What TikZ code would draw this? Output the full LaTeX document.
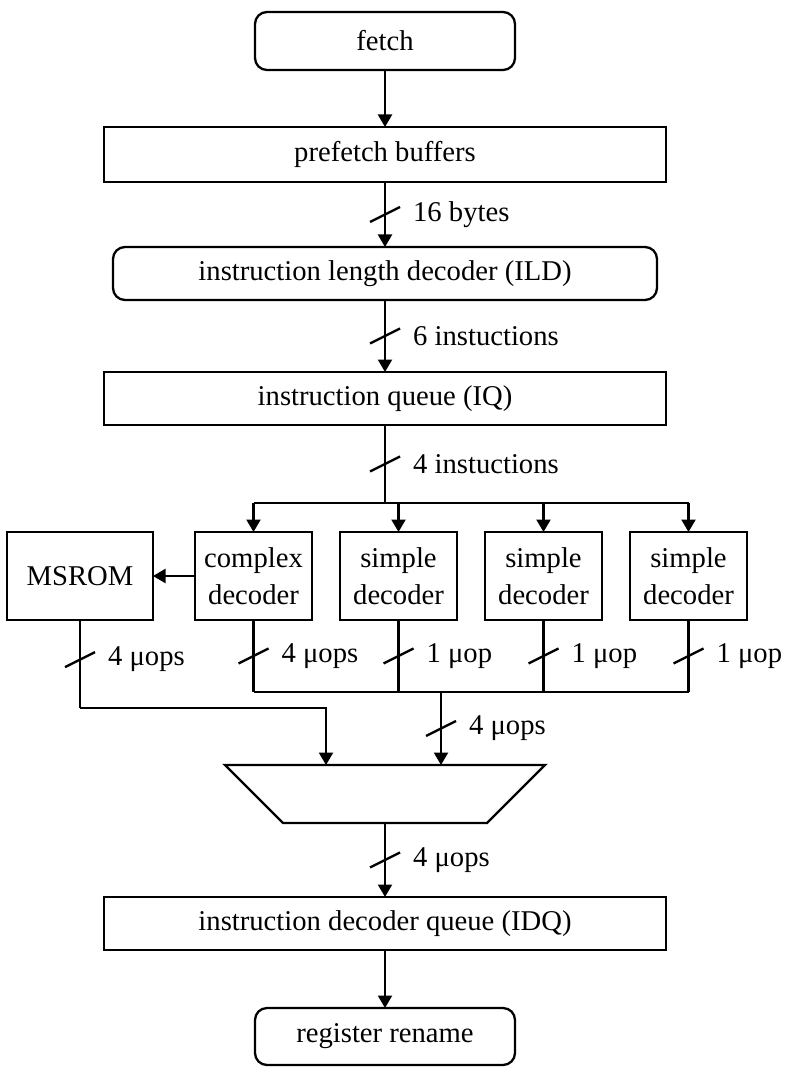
\documentclass[tikz,border=0pt]{standalone}
\usepackage{fontspec}
\setmainfont{Liberation Serif}
\usetikzlibrary{positioning, arrows.meta}

\tikzset{
    block/.style={draw, line width=1.3pt, outer sep=0pt, minimum height=1.06cm, font=\fontsize{16.3}{21}\selectfont},
    rblock/.style={block, rounded corners=0.24cm},
    decoder/.style={block, align=center, minimum width=2.34cm, minimum height=1.76cm},
    wire/.style={line width=1.3pt},
    arr/.style={wire, -{Triangle[width=0.28cm, length=0.25cm]}},
    buswidth/.style={pos=.5, anchor=west, xshift=0.54cm, inner sep=0pt, font=\fontsize{16.3}{21}\selectfont},
    pics/slash/.style={code={\draw[wire, -] (-0.3,-0.15) -- (0.3,0.15);}}
}

\begin{document}
\begin{tikzpicture}
    \useasboundingbox (0,0) rectangle (15.76,-21.4);
    \node[rblock, minimum width=5.2cm, minimum height=1.16cm] (fetch) at (7.7,-0.82) {fetch};
    \node[block, minimum width=11.24cm, minimum height=1.1cm, below=1.14cm of fetch] (pf) {prefetch buffers};
    \node[rblock, minimum width=10.88cm, below=1.3cm of pf] (ild) {instruction length decoder (ILD)};
    \node[block, minimum width=11.24cm, below=1.44cm of ild] (iq) {instruction queue (IQ)};
    \node[decoder, below=2.14cm of iq, xshift=0.27cm] (s1) {simple\\decoder};
    \node[decoder, right=0.56cm of s1] (s2) {simple\\decoder};
    \node[decoder, right=0.56cm of s2] (s3) {simple\\decoder};
    \node[decoder, left=0.56cm of s1] (cd) {complex\\decoder};
    \node[decoder, minimum width=2.92cm, left=0.84cm of cd] (ms) {MSROM};
    \coordinate[above=0.58cm of cd] (split);
    \coordinate[below=1.44cm of cd] (join);
    \coordinate[below=1.76cm of ms] (msturn);
    \coordinate (joinmid) at (iq |- join);
    \coordinate[below=1.46cm of joinmid] (muxn);
    \coordinate[below=1.16cm of muxn] (muxs);
    \coordinate[left=1.18cm of muxn] (in1);
    \coordinate[right=1.12cm of muxn] (in2);
    \draw[wire] (muxn) ++(-3.2,0) -- ++(6.4,0) -- ++(-1.16,-1.16) -- ++(-4.08,0) -- cycle;
    \node[block, minimum width=11.24cm, below=1.48cm of muxs] (idq) {instruction decoder queue (IDQ)};
    \node[rblock, minimum width=5.2cm, minimum height=1.14cm, below=1.16cm of idq] (rr) {register rename};

    \draw[arr] (fetch) -- (pf);
    \draw[arr] (pf) -- pic[pos=.5]{slash} node[buswidth] {16 bytes} (ild);
    \draw[arr] (ild) -- pic[pos=.5]{slash} node[buswidth] {6 instuctions} (iq);
    \draw[wire] (iq) -- pic[pos=.5]{slash} node[buswidth] {4 instuctions} (iq |- split);
    \draw[wire] (split) -- (s3 |- split);
    \foreach \d in {cd, s1, s2, s3}
        \draw[arr] (\d |- split) -- (\d);
    \draw[arr] (cd) -- (ms);
    \foreach \d/\n in {cd/4 μops, s1/1 μop, s2/1 μop, s3/1 μop}
        \draw[wire] (\d) -- pic[pos=.5]{slash} node[buswidth] {\n} (\d |- join);
    \draw[wire] (join) -- (s3 |- join);
    \draw[wire] (ms) -- pic[pos=.45]{slash} node[buswidth, pos=.45] {4 μops} (msturn);
    \draw[arr] (msturn) -| (in1);
    \draw[arr] (in2 |- join) -- pic[pos=.5]{slash} node[buswidth] {4 μops} (in2);
    \draw[arr] (muxs) -- pic[pos=.5]{slash} node[buswidth] {4 μops} (idq);
    \draw[arr] (idq) -- (rr);
\end{tikzpicture}
\end{document}
